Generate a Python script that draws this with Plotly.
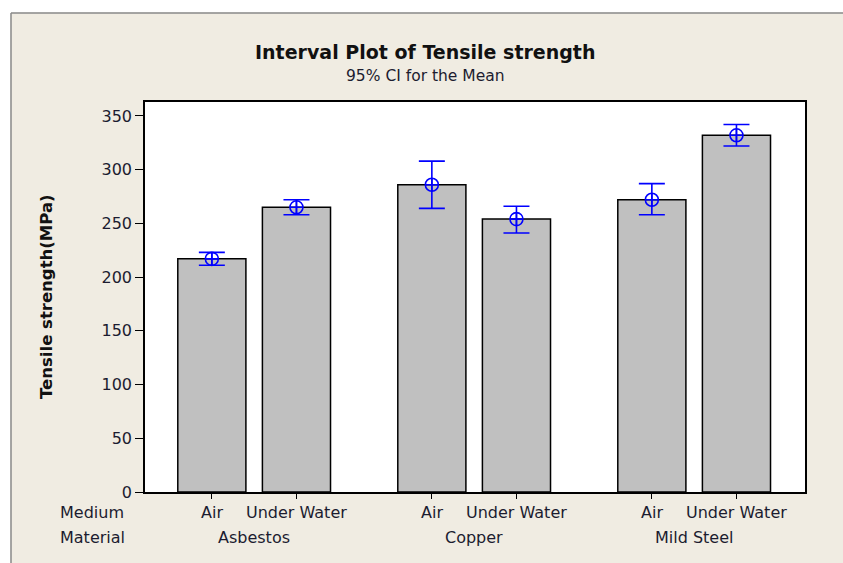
import plotly.graph_objects as go

# Interval plot data: tensile strength (MPa) with 95% CI for the mean
materials = ["Asbestos", "Copper", "Mild Steel"]
media = ["Air", "Under Water"]
x_pos = [0, 1, 2.6, 3.6, 5.2, 6.2]
medium_labels = ["Air", "Under Water", "Air", "Under Water", "Air", "Under Water"]
means = [217, 265, 286, 254, 272, 332]
ci_low = [211, 258, 264, 241, 258, 322]
ci_high = [223, 272, 308, 266, 287, 342]
group_centers = [0.5, 3.1, 5.7]
y_ticks = [0, 50, 100, 150, 200, 250, 300, 350]

FONT = "DejaVu Sans, sans-serif"
TXT = "#1c1c30"
BEIGE = "#F0ECE2"

W, H = 843, 563
ML, MR, MT, MB = 145, 38, 102, 71
PW, PH = W - ML - MR, H - MT - MB


def px_x(px):
    return (px - ML) / PW


def px_y(py):
    return (H - MB - py) / PH


fig = go.Figure()

fig.add_trace(go.Bar(
    x=x_pos, y=means, width=0.805,
    marker=dict(color="#C0C0C0", line=dict(color="black", width=1.5)),
    hoverinfo="skip", showlegend=False,
))

fig.add_trace(go.Scatter(
    x=x_pos, y=means, mode="markers",
    marker=dict(symbol="circle-cross-open", size=13, color="#0000FF",
                line=dict(color="#0000FF", width=1.6)),
    error_y=dict(type="data", symmetric=False,
                 array=[h - m for h, m in zip(ci_high, means)],
                 arrayminus=[m - l for l, m in zip(ci_low, means)],
                 color="#0000FF", thickness=1.6, width=13),
    showlegend=False,
))

annotations = []
# Medium row
for xp, lab in zip(x_pos, medium_labels):
    annotations.append(dict(x=xp, y=px_y(512), xref="x", yref="paper",
                            text=lab, showarrow=False, xanchor="center", yanchor="middle",
                            font=dict(family=FONT, size=16, color=TXT)))
# Material row
for xc, lab in zip(group_centers, materials):
    annotations.append(dict(x=xc, y=px_y(537), xref="x", yref="paper",
                            text=lab, showarrow=False, xanchor="center", yanchor="middle",
                            font=dict(family=FONT, size=16, color=TXT)))
for yy, lab in [(512, "Medium"), (537, "Material")]:
    annotations.append(dict(x=px_x(92), y=px_y(yy), xref="paper", yref="paper",
                            text=lab, showarrow=False, xanchor="center", yanchor="middle",
                            font=dict(family=FONT, size=16, color=TXT)))
# Titles
annotations.append(dict(x=px_x(425), y=px_y(52), xref="paper", yref="paper",
                        text="<b>Interval Plot of Tensile strength</b>", showarrow=False,
                        xanchor="center", yanchor="middle",
                        font=dict(family=FONT, size=19, color="#111111")))
annotations.append(dict(x=px_x(425), y=px_y(76), xref="paper", yref="paper",
                        text="95% CI for the Mean", showarrow=False,
                        xanchor="center", yanchor="middle",
                        font=dict(family=FONT, size=15.5, color=TXT)))
annotations.append(dict(x=px_x(46), y=px_y(297), xref="paper", yref="paper",
                        text="<b>Tensile strength(MPa)</b>", showarrow=False, textangle=-90,
                        xanchor="center", yanchor="middle",
                        font=dict(family=FONT, size=16.5, color="#111111")))

shapes = [
    # white margin strips around the beige graph region
    dict(type="rect", xref="paper", yref="paper", x0=px_x(-5), x1=px_x(850),
         y0=px_y(12.5), y1=px_y(-5), fillcolor="white", line=dict(width=0), layer="above"),
    dict(type="rect", xref="paper", yref="paper", x0=px_x(-5), x1=px_x(10.5),
         y0=px_y(570), y1=px_y(-5), fillcolor="white", line=dict(width=0), layer="above"),
    dict(type="line", xref="paper", yref="paper", x0=px_x(11), x1=px_x(850),
         y0=px_y(13), y1=px_y(13), line=dict(color="#8a8a8a", width=1.5)),
    dict(type="line", xref="paper", yref="paper", x0=px_x(11), x1=px_x(11),
         y0=px_y(13), y1=px_y(570), line=dict(color="#8a8a8a", width=1.5)),
]

fig.update_layout(
    width=W, height=H,
    margin=dict(l=ML, r=MR, t=MT, b=MB, pad=0),
    paper_bgcolor=BEIGE, plot_bgcolor="white",
    annotations=annotations, shapes=shapes,
    xaxis=dict(range=[-0.79, 7.01], tickvals=x_pos, ticktext=[""] * 6,
               ticks="outside", ticklen=5, tickcolor="black", tickwidth=1,
               showgrid=False, zeroline=False, showline=True, linecolor="black",
               linewidth=1.5, mirror=True),
    yaxis=dict(range=[0, 363], tickvals=y_ticks, ticks="outside", ticklen=8,
               tickcolor="black", tickwidth=1, showgrid=False, zeroline=False,
               showline=True, linecolor="black", linewidth=1.5, mirror=True,
               tickfont=dict(family=FONT, size=16, color=TXT)),
)

fig.write_html("out.html")
